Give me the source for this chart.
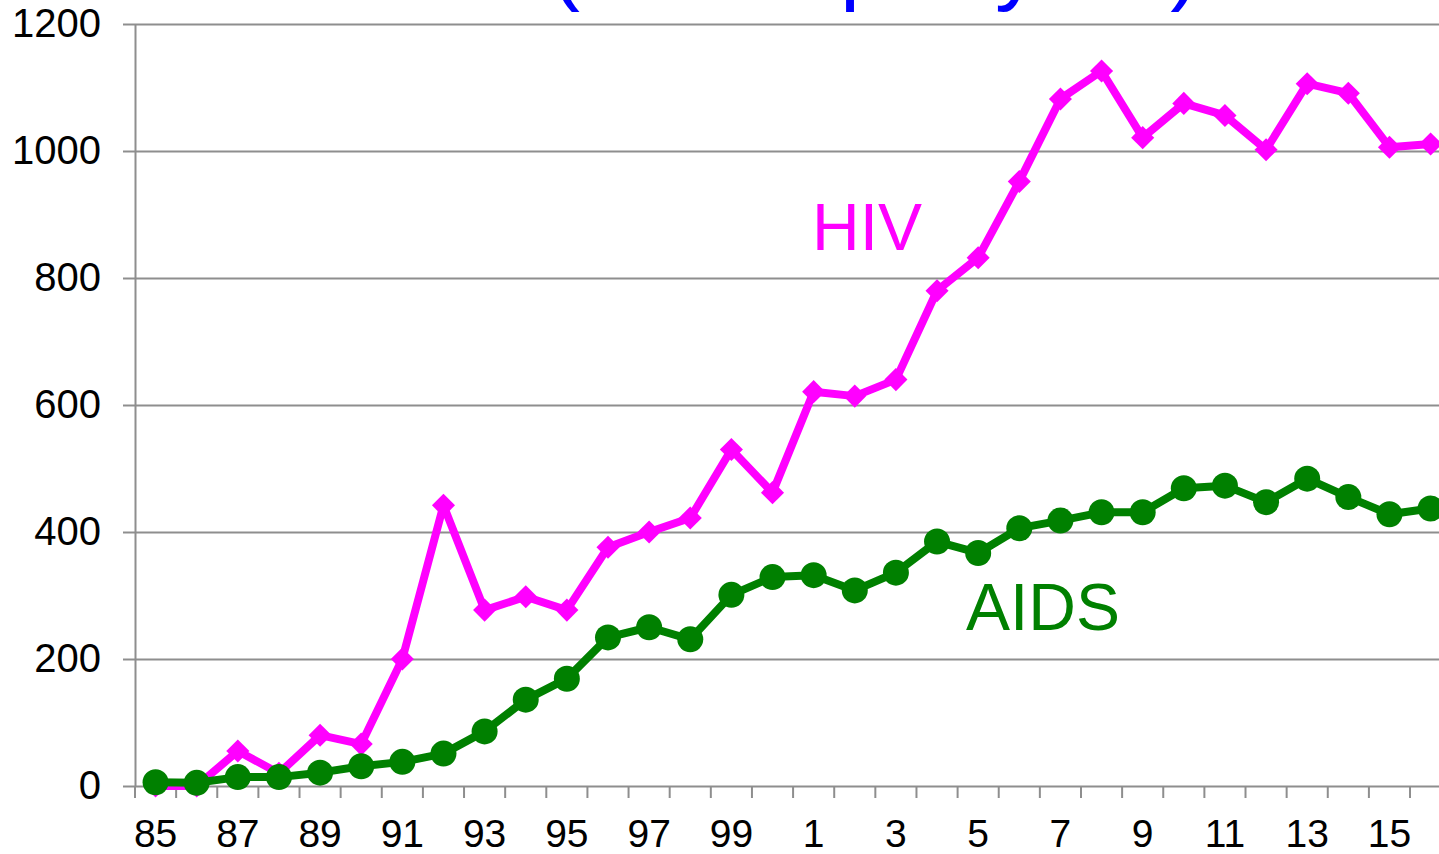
<!DOCTYPE html>
<html lang="en">
  <head>
    <meta charset="UTF-8" />
    <title>HIV / AIDS reports by year</title>
    <script src="https://d3js.org/d3.v7.min.js"></script>
    <style>
      body {
        margin: 0;
        background: #fff;
      }
      #chart text {
        font-family: 'Liberation Sans', Arial, sans-serif;
      }
      .grid line,
      .axis line,
      .axis path {
        stroke: #8e8e8e;
        stroke-width: 2px;
      }
    </style>
  </head>
  <body>
    <div id="chart"></div>
    <script>
      // years 1985-2016, as printed on the axis
      const years = ['85', '86', '87', '88', '89', '90', '91', '92', '93', '94',
        '95', '96', '97', '98', '99', '0', '1', '2', '3', '4', '5', '6', '7',
        '8', '9', '10', '11', '12', '13', '14', '15', '16'];
      const tickLabels = ['85', '87', '89', '91', '93', '95', '97', '99',
        '1', '3', '5', '7', '9', '11', '13', '15'];
      const yTicks = [0, 200, 400, 600, 800, 1000, 1200];

      const hiv = [0, 0, 55, 20, 80, 66, 200, 442, 277, 298, 277, 376, 400,
        422, 530, 462, 621, 614, 640, 780, 832, 952, 1082, 1126, 1021, 1075,
        1056, 1002, 1106, 1091, 1006, 1011];
      const aids = [6, 5, 14, 14, 21, 31, 38, 51, 86, 136, 169, 234, 250, 231,
        301, 329, 332, 308, 336, 385, 367, 406, 418, 431, 431, 469, 473, 447,
        484, 455, 428, 437];

      const width = 1439;
      const height = 854;
      const plotLeft = 135;
      const plotTop = 24;
      const plotBottom = 786;
      const band = 41.13;

      const svg = d3
        .select('#chart')
        .append('svg')
        .attr('width', width)
        .attr('height', height)
        .style('display', 'block');

      const x = d3
        .scaleBand()
        .domain(years)
        .range([plotLeft, plotLeft + band * years.length])
        .padding(0);
      const cx = (d) => x(d) + x.bandwidth() / 2;

      const y = d3
        .scaleLinear()
        .domain([0, 1200])
        .range([plotBottom, plotTop]);

      // title, sits above the visible area (only descenders show)
      svg
        .append('text')
        .attr('x', 875)
        .attr('y', -7)
        .attr('text-anchor', 'middle')
        .style('font-size', '90px')
        .style('fill', '#0000ff')
        .text('(cases per year)');

      // horizontal gridlines
      svg
        .append('g')
        .attr('class', 'grid')
        .attr('transform', `translate(${plotLeft},0)`)
        .call(
          d3
            .axisLeft(y)
            .tickValues(yTicks.slice(1))
            .tickSize(-(width - plotLeft))
            .tickFormat('')
        )
        .call((g) => g.select('.domain').remove());

      // y axis
      svg
        .append('g')
        .attr('class', 'axis')
        .attr('transform', `translate(${plotLeft},0)`)
        .call(
          d3
            .axisLeft(y)
            .tickValues(yTicks)
            .tickFormat(d3.format('d'))
            .tickSize(12)
            .tickSizeOuter(0)
            .tickPadding(22)
        )
        .call((g) =>
          g.selectAll('text').style('font-size', '40px').style('fill', '#000')
        );

      // x axis line and labels
      svg
        .append('g')
        .attr('class', 'axis')
        .attr('transform', `translate(0,${plotBottom})`)
        .call(
          d3
            .axisBottom(x)
            .tickValues(tickLabels)
            .tickSize(0)
            .tickSizeOuter(0)
            .tickPadding(33)
        )
        .call((g) =>
          g.selectAll('text').style('font-size', '39px').style('fill', '#000')
        );

      // x ticks sit on the category boundaries
      svg
        .append('g')
        .attr('class', 'axis')
        .selectAll('line')
        .data(years)
        .enter()
        .append('line')
        .attr('x1', (d) => x(d))
        .attr('x2', (d) => x(d))
        .attr('y1', plotBottom)
        .attr('y2', plotBottom + 12);

      const line = d3
        .line()
        .x((d, i) => cx(years[i]))
        .y((d) => y(d));

      // HIV
      svg
        .append('path')
        .datum(hiv)
        .attr('d', line)
        .attr('fill', 'none')
        .attr('stroke', '#ff00ff')
        .attr('stroke-width', 8)
        .attr('stroke-linejoin', 'round');

      svg
        .append('g')
        .selectAll('path')
        .data(hiv)
        .enter()
        .append('path')
        .attr('d', d3.symbol(d3.symbolDiamond2, 340)())
        .attr('transform', (d, i) => `translate(${cx(years[i])},${y(d)})`)
        .attr('fill', '#ff00ff');

      // AIDS
      svg
        .append('path')
        .datum(aids)
        .attr('d', line)
        .attr('fill', 'none')
        .attr('stroke', '#008000')
        .attr('stroke-width', 8)
        .attr('stroke-linejoin', 'round');

      svg
        .append('g')
        .selectAll('circle')
        .data(aids)
        .enter()
        .append('circle')
        .attr('cx', (d, i) => cx(years[i]))
        .attr('cy', (d) => y(d))
        .attr('r', 13)
        .attr('fill', '#008000');

      // series names
      svg
        .append('text')
        .attr('x', 812)
        .attr('y', 250)
        .style('font-size', '66px')
        .style('fill', '#ff00ff')
        .text('HIV');

      svg
        .append('text')
        .attr('x', 966)
        .attr('y', 630)
        .style('font-size', '66px')
        .style('fill', '#008000')
        .text('AIDS');
    </script>
  </body>
</html>
